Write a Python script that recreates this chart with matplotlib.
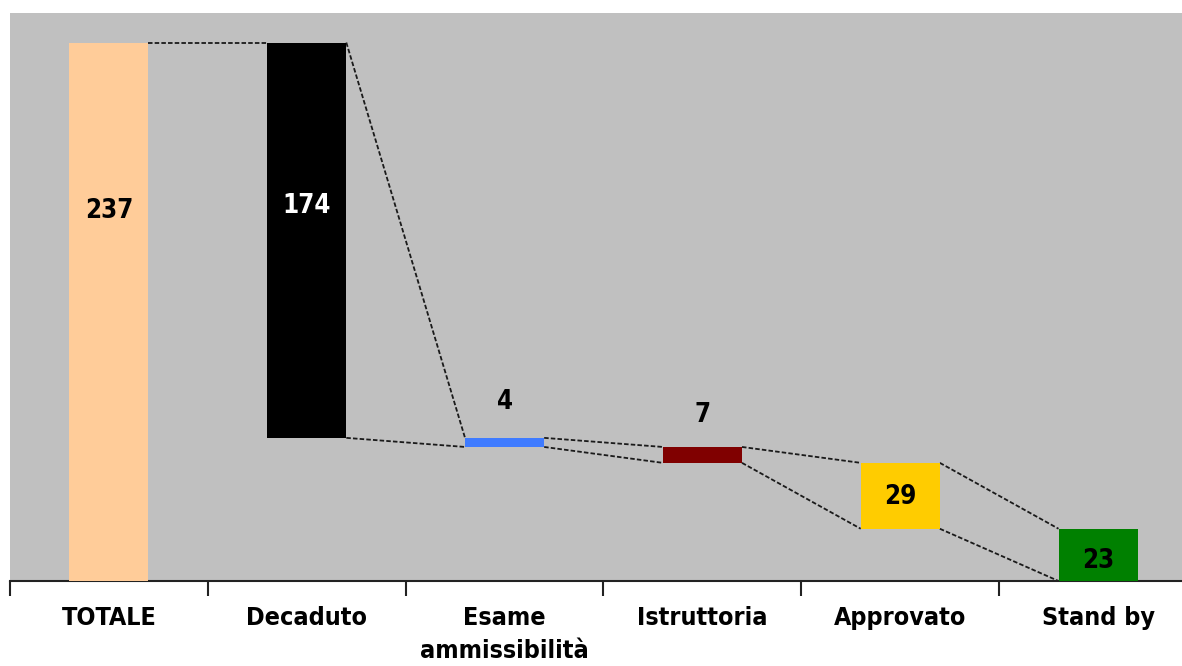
import matplotlib
matplotlib.use("Agg")
import matplotlib.pyplot as plt
from matplotlib.ticker import FixedLocator

categories = ["TOTALE", "Decaduto", "Esame\nammissibilità", "Istruttoria", "Approvato", "Stand by"]
values = [237, 174, 4, 7, 29, 23]
colors = ["#FFCC99", "#000000", "#3F7BFF", "#800000", "#FFCC00", "#008000"]
label_colors = ["black", "white", "black", "black", "black", "black"]

# running waterfall: total first, then each stage removed from what remains
bottoms = [0]
remaining = values[0]
for v in values[1:]:
    remaining -= v
    bottoms.append(remaining)
tops = [b + v for b, v in zip(bottoms, values)]

# vertical placement of the value labels (data units)
label_y = [163, 165, 79, 73, 37, 9]

txt = dict(family=["DejaVu Sans"], fontweight="bold", fontstretch="condensed")

fig = plt.figure(figsize=(11.82, 6.66), dpi=100)
ax = fig.add_axes([10 / 1182, 1 - 581 / 666, 1187 / 1182, 568 / 666])
ax.set_facecolor("#C0C0C0")

width = 0.4
x = list(range(len(categories)))
ax.bar(x, values, width=width, bottom=bottoms, color=colors, zorder=3)

# dashed connectors between neighbouring bars
dash = dict(color="#1a1a1a", linestyle=(0, (2.5, 1.2)), linewidth=1.3, zorder=2)
for i in range(len(categories) - 1):
    x0 = x[i] + width / 2
    x1 = x[i + 1] - width / 2
    ax.plot([x0, x1], [tops[i], tops[i + 1]], **dash)
    if i > 0:
        ax.plot([x0, x1], [bottoms[i], bottoms[i + 1]], **dash)

for xi, v, y, c in zip(x, values, label_y, label_colors):
    ax.text(xi, y, str(v), ha="center", va="center", color=c,
            fontsize=18.5, zorder=4, **txt)

ax.set_xlim(-0.5, len(categories) - 0.5)
ax.set_ylim(0, 250)

ax.xaxis.set_major_locator(FixedLocator(x))
ax.set_xticklabels(categories, fontsize=18, linespacing=1.45, va="top", **txt)
ax.xaxis.set_minor_locator(FixedLocator([i - 0.5 for i in range(len(categories) + 1)]))
ax.tick_params(axis="x", which="major", length=0, pad=18)
ax.tick_params(axis="x", which="minor", length=11, width=1.5, color="#222222")
ax.set_yticks([])

for s in ["top", "left", "right"]:
    ax.spines[s].set_visible(False)
ax.spines["bottom"].set_color("#222222")
ax.spines["bottom"].set_linewidth(1.5)

fig.savefig("out.png", dpi=100, facecolor="white")
